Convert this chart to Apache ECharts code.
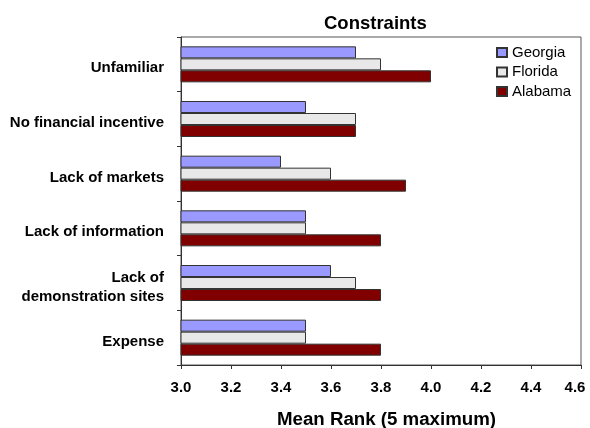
<!DOCTYPE html>
<html>
<head>
<meta charset="utf-8">
<script src="https://cdn.jsdelivr.net/npm/echarts@6/dist/echarts.min.js"></script>
<style>
  html, body { margin: 0; padding: 0; background: #fff; }
  #chart { width: 590px; height: 428px; }
</style>
</head>
<body>
<div id="chart"></div>
<script>
// Constraint categories, listed top to bottom
const categories = [
  'Unfamiliar',
  'No financial incentive',
  'Lack of markets',
  'Lack of information',
  'Lack of\ndemonstration sites',
  'Expense'
];
// Mean rank per state (5 = maximum)
const georgia = [3.7, 3.5, 3.4, 3.5, 3.6, 3.5];
const florida = [3.8, 3.7, 3.6, 3.5, 3.7, 3.5];
const alabama = [4.0, 3.7, 3.9, 3.8, 3.8, 3.8];
// Value axis ticks
const xTicks = [3.0, 3.2, 3.4, 3.6, 3.8, 4.0, 4.2, 4.4, 4.6];
const xMin = xTicks[0];
const xMax = xTicks[xTicks.length - 1];

const font = 'Arial, "Liberation Sans", sans-serif';

function barSeries(name, data, color) {
  return {
    name: name,
    type: 'bar',
    data: data,
    barWidth: 12,
    barGap: '0%',
    itemStyle: { color: color, borderColor: '#333', borderWidth: 1 },
    emphasis: { disabled: true }
  };
}

const tickText = {
  fontFamily: font,
  fontSize: 15,
  fontWeight: 'bold',
  color: '#000'
};

const chart = echarts.init(document.getElementById('chart'));
chart.setOption({
  animation: false,
  backgroundColor: '#fff',
  textStyle: { fontFamily: font },
  title: {
    text: 'Constraints',
    left: 324,
    top: 14,
    padding: 0,
    textStyle: { fontFamily: font, fontSize: 18.5, fontWeight: 'bold', color: '#000' }
  },
  legend: {
    orient: 'vertical',
    left: 491,
    top: 40,
    itemWidth: 10,
    itemHeight: 9,
    itemGap: 4.5,
    icon: 'rect',
    selectedMode: false,
    data: ['Georgia', 'Florida', 'Alabama'],
    textStyle: { fontFamily: font, fontSize: 15, color: '#000' }
  },
  grid: {
    left: 181,
    right: 9,
    top: 37,
    bottom: 63,
    outerBoundsMode: 'none',
    show: true,
    borderColor: '#555',
    borderWidth: 1,
    backgroundColor: '#fff'
  },
  xAxis: {
    type: 'value',
    min: xMin,
    max: xMax,
    interval: 0.2,
    name: 'Mean Rank (5 maximum)',
    nameLocation: 'middle',
    nameGap: 45,
    nameTextStyle: {
      fontFamily: font, fontSize: 18.7, fontWeight: 'bold', color: '#000',
      padding: [0, 0, 0, 11]
    },
    axisLine: { show: true, lineStyle: { color: '#333', width: 1 } },
    axisTick: { show: true, length: 4, lineStyle: { color: '#333' } },
    splitLine: { show: false },
    axisLabel: {
      margin: 15,
      ...tickText,
      // the last label is nudged inward so it stays inside the canvas
      formatter: v => (Math.abs(v - xMax) < 1e-9 ? '{m|' : '{n|') + v.toFixed(1) + '}',
      rich: {
        n: { ...tickText },
        m: { ...tickText, padding: [0, 12, 0, 0] }
      }
    }
  },
  yAxis: {
    type: 'category',
    inverse: true,
    data: categories,
    axisLine: { show: true, lineStyle: { color: '#333', width: 1 } },
    axisTick: { show: true, length: 4, lineStyle: { color: '#333' } },
    axisLabel: {
      margin: 17,
      align: 'right',
      formatter: v => '{c|' + v + '}',
      rich: {
        c: {
          ...tickText,
          lineHeight: 19,
          align: 'right',
          padding: [8, 0, 0, 0]
        }
      }
    }
  },
  series: [
    barSeries('Georgia', georgia, '#9999ff'),
    barSeries('Florida', florida, '#e8e8e8'),
    barSeries('Alabama', alabama, '#800000')
  ]
});
</script>
</body>
</html>
